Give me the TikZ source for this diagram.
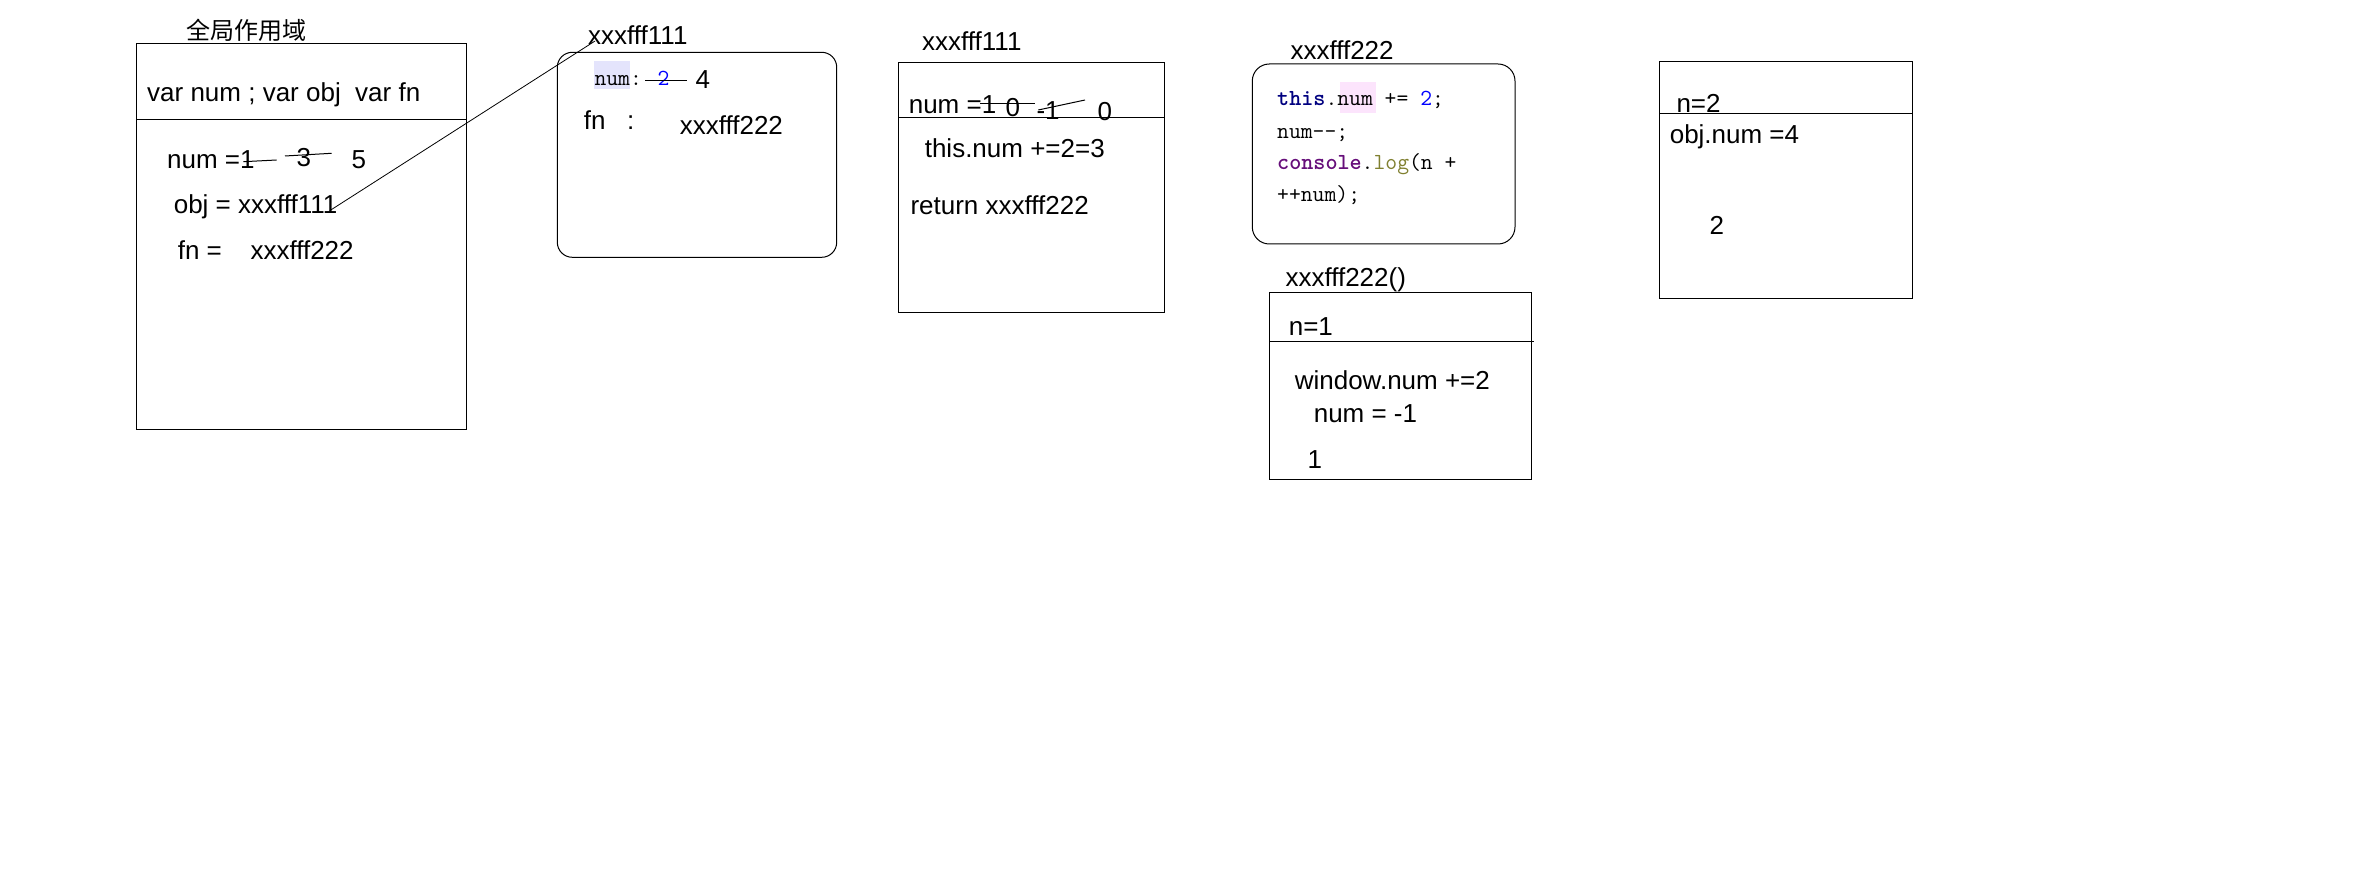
\documentclass[tikz,border=0pt]{standalone}
\usepackage{fontspec}
\setmainfont{Liberation Sans}
\newfontfamily\cjk{Noto Sans CJK SC}
\definecolor{kwnavy}{RGB}{0,0,128}
\definecolor{kwpurple}{RGB}{102,14,122}
\definecolor{fnolive}{RGB}{128,128,48}
\definecolor{numblue}{RGB}{0,0,255}
\definecolor{hlpink}{RGB}{252,228,252}
\definecolor{hllav}{RGB}{228,228,252}

\tikzset{every picture/.style={line width=0.5pt}}

\begin{document}
\begin{tikzpicture}[x=0.5pt,y=0.5pt,yscale=-1,xscale=1,
  txt/.style={anchor=base west,inner sep=0pt,font=\fontsize{13}{15}\selectfont},
  code/.style={anchor=base west,inner sep=0pt,font=\ttfamily\fontsize{11.5}{14}\selectfont},
  strike/.style={line width=0.5pt}]
%set diagram size to the full page
\fill [white] (0,0) rectangle (2358,892);
\useasboundingbox (0,0) rectangle (2358,892);

%Shape: Rectangle (global scope)
\draw   (136.7,43.3) rectangle (466.7,430) ;
%Straight Lines
\draw    (136.7,119.3) -- (466.7,119.3) ;
% Text Node
\draw (246,30) node [inner sep=0pt,font=\cjk\fontsize{12}{14}\selectfont] (scopetitle) {全局作用域};
% Text Node
\draw (146.7,101.7) node [txt] (vardecl) {var num ; var obj\ \ var fn};
% Text Node
\draw (166.7,168.3) node [txt] (gnum) {num =1};
% Text Node
\draw (296,166.7) node [txt] (gnumb) {3};
% Text Node
\draw (351,168.3) node [txt] (gnumc) {5};
%Straight Lines
\draw [strike]   (243.3,161.7) -- (276.7,160) ;
%Straight Lines
\draw [strike]   (285,156) -- (331.7,153.3) ;
% Text Node
\draw (173.3,213.3) node [txt] (gobj) {obj = xxxfff111};
% Text Node
\draw (177.3,259.3) node [txt] (gfn) {fn =};
% Text Node
\draw (250,259.3) node [txt] (gfnval) {xxxfff222};

%Shape: Rounded Rect (object xxxfff111)
\draw [rounded corners=7.5pt]  (557.3,52.3) rectangle (836.7,257.3) ;
% Text Node
\draw (587.7,45) node [txt] (objaddr) {xxxfff111};
\fill [hllav] (594,61) rectangle (630,89.3) ;
% Text Node
\draw (594,85.7) node [code] (objnum) {num: {\color{numblue}2}};
%Straight Lines
\draw [strike]   (645,81) -- (686.7,81) ;
% Text Node
\draw (695,88.3) node [txt] (objnumb) {4};
% Text Node
\draw (583.3,129.3) node [txt] (objfn) {fn\ \ \ :};
% Text Node
\draw (679.3,135) node [txt] (objfnval) {xxxfff222};

%Straight Lines (obj points to xxxfff111)
\draw [line width=0.4pt]   ([xshift=-4pt,yshift=2pt]gobj.east) -- ([xshift=3.6pt,yshift=-2.2pt]objaddr.south west) ;

%Shape: Rectangle (call of xxxfff111)
\draw   (898.3,62.7) rectangle (1164.3,312.3) ;
%Straight Lines
\draw    (898.3,117.7) -- (1164.3,117.7) ;
% Text Node
\draw (921.7,50.7) node [txt] (calladdr) {xxxfff111};
% Text Node
\draw (908.3,114) node [txt] (cnum) {num =1};
% Text Node
\draw (1005,116.7) node [txt] (cnumb) {0};
% Text Node
\draw (1036,120) node [txt] (cnumc) {-1};
% Text Node
\draw (1097,120.7) node [txt] (cnumd) {0};
%Straight Lines
\draw [strike]   (980,103.3) -- (1035,103.3) ;
%Straight Lines
\draw [strike]   (1038.3,110) -- (1085,100) ;
% Text Node
\draw (924.3,157.3) node [txt] (cthis) {this.num +=2=3};
% Text Node
\draw (910,215) node [txt] (cret) {return xxxfff222};

%Shape: Rounded Rect (function xxxfff222)
\draw [rounded corners=8.5pt]  (1252.3,64) rectangle (1515,244) ;
% Text Node
\draw (1290,60) node [txt] (fnaddr) {xxxfff222};
\fill [hlpink] (1340,81.7) rectangle (1376,112.7) ;
% Text Node
\draw (1276.7,106) node [code] (fnla) {{\bfseries\color{kwnavy}this}.num += {\color{numblue}2};};
% Text Node
\draw (1276.7,138.3) node [code] (fnlb) {num--;};
% Text Node
\draw (1276.7,170) node [code] (fnlc) {{\bfseries\color{kwpurple}console}.{\color{fnolive}log}(n +};
% Text Node
\draw (1276.7,201.7) node [code] (fnld) {++num);};

%Shape: Rectangle (call of xxxfff222)
\draw   (1269.3,292.3) rectangle (1531.7,479.3) ;
%Straight Lines
\draw    (1269.3,341.7) -- (1534,341.7) ;
% Text Node
\draw (1285,286.7) node [txt] (fcaddr) {xxxfff222()};
% Text Node
\draw (1288.3,336) node [txt] (fcn) {n=1};
% Text Node
\draw (1294.3,389.3) node [txt] (fcwin) {window.num +=2};
% Text Node
\draw (1313.3,422.7) node [txt] (fcnum) {num = -1};
% Text Node
\draw (1307,468.3) node [txt] (fcout) {1};

%Shape: Rectangle (second call)
\draw   (1659.3,61.7) rectangle (1912.7,298.3) ;
%Straight Lines
\draw    (1659.3,113.3) -- (1912.7,113.3) ;
% Text Node
\draw (1676,113) node [txt] (scn) {n=2};
% Text Node
\draw (1669.3,144) node [txt] (scobj) {obj.num =4};
% Text Node
\draw (1709,235) node [txt] (scout) {2};

\end{tikzpicture}
\end{document}
